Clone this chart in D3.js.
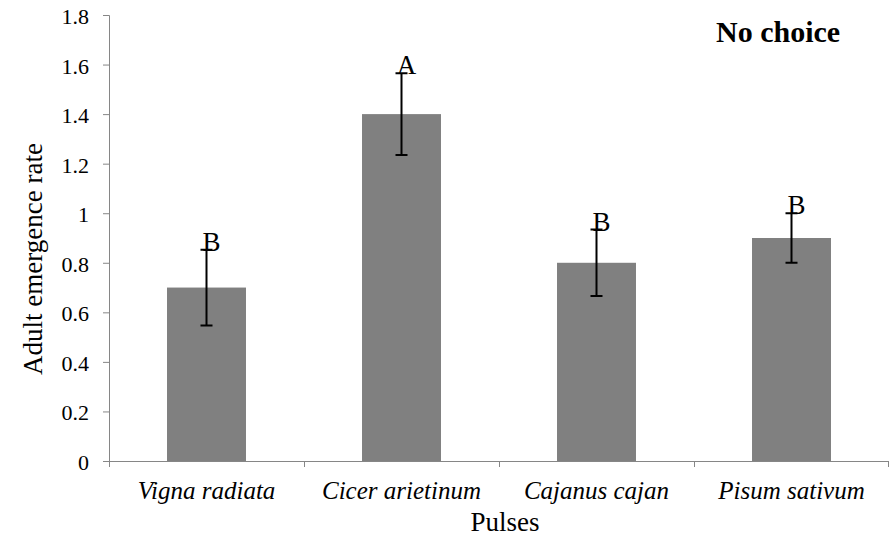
<!DOCTYPE html>
<html>
<head>
<meta charset="utf-8">
<script src="https://cdn.jsdelivr.net/npm/d3@7"></script>
</head>
<body style="margin:0">
<svg id="s" width="890" height="540"></svg>
<script>
const pulses = ['Vigna radiata', 'Cicer arietinum', 'Cajanus cajan', 'Pisum sativum'];
const rates = [0.7, 1.4, 0.8, 0.9];
const errors = [0.153, 0.165, 0.134, 0.1];
const letters = ['B', 'A', 'B', 'B'];
const yTicks = [0, 0.2, 0.4, 0.6, 0.8, 1, 1.2, 1.4, 1.6, 1.8];

const margin = { left: 109, right: 1, top: 15, bottom: 79 };
const width = 890 - margin.left - margin.right;
const height = 540 - margin.top - margin.bottom;
const axisColor = '#868686';

const svg = d3.select('#s');

// text helper: set the serif face straight on each label
function label(parent, txt, size, opts) {
    opts = opts || {};
    var t = parent.append('text')
        .attr('font-family', 'Times New Roman')
        .attr('font-size', size)
        .attr('font-style', opts.italic ? 'italic' : 'normal')
        .attr('font-weight', opts.bold ? 'bold' : 'normal')
        .attr('text-anchor', opts.anchor || 'start')
        .text(txt);
    t.node().getComputedTextLength();
    return t;
}

const g = svg.append('g')
    .attr('transform', 'translate(' + margin.left + ',' + margin.top + ')');

var x = d3.scaleBand()
    .domain(pulses)
    .range([0, width])
    .paddingInner(0.595)
    .paddingOuter(0.2975);

var y = d3.scaleLinear()
    .domain([0, 1.8])
    .range([height, 0]);

// y axis: lines from d3.axisLeft, labels added as serif text
var yAxis = g.append('g')
    .call(d3.axisLeft(y).tickValues(yTicks).tickSize(6).tickFormat(''));
yAxis.attr('font-family', null).attr('font-size', null);
yAxis.selectAll('line, path').attr('stroke', axisColor);
yAxis.select('.domain').attr('d', 'M-6,0.5H0.5V' + height);
yTicks.forEach(v => {
    label(g, d3.format('~g')(v), 22, { anchor: 'end' })
        .attr('x', -20)
        .attr('y', y(v) + 9);
});

// x axis, ticks sit between the categories
g.append('line')
    .attr('x1', 0).attr('x2', width)
    .attr('y1', height + 0.5).attr('y2', height + 0.5)
    .attr('stroke', axisColor);
g.selectAll('.xtick')
    .data(d3.range(pulses.length + 1))
    .enter()
    .append('line')
    .attr('x1', i => Math.min(i * x.step(), width - 1) + 0.5)
    .attr('x2', i => Math.min(i * x.step(), width - 1) + 0.5)
    .attr('y1', height)
    .attr('y2', height + 6)
    .attr('stroke', axisColor);

// bars
g.selectAll('.bar')
    .data(pulses)
    .enter()
    .append('rect')
    .attr('x', d => x(d))
    .attr('y', (d, i) => y(rates[i]))
    .attr('width', x.bandwidth())
    .attr('height', (d, i) => height - y(rates[i]))
    .attr('fill', '#808080');

// error bars
const cx = d => x(d) + x.bandwidth() / 2;
g.selectAll('.err')
    .data(pulses)
    .enter()
    .append('path')
    .attr('d', (d, i) => {
        var t = y(rates[i] + errors[i]), b = y(rates[i] - errors[i]), c = cx(d);
        return 'M' + c + ',' + t + 'V' + b +
            'M' + (c - 6) + ',' + t + 'H' + (c + 6) +
            'M' + (c - 6) + ',' + b + 'H' + (c + 6);
    })
    .attr('stroke', '#000')
    .attr('stroke-width', 2)
    .attr('fill', 'none');

// significance letters and category labels
pulses.forEach((p, i) => {
    label(g, letters[i], 27, { anchor: 'middle' })
        .attr('x', cx(p) + 5)
        .attr('y', y(rates[i] + errors[i]) + 1);
    label(g, p, 25, { anchor: 'middle', italic: true })
        .attr('x', cx(p))
        .attr('y', height + 38);
});

// axis titles
label(svg, 'Pulses', 27, { anchor: 'middle' })
    .attr('x', 505)
    .attr('y', 531);

label(svg, 'Adult emergence rate', 27, { anchor: 'middle' })
    .attr('transform', 'translate(42,259) rotate(-90)');

label(svg, 'No choice', 30, { bold: true })
    .attr('x', 716)
    .attr('y', 42);
</script>
</body>
</html>
